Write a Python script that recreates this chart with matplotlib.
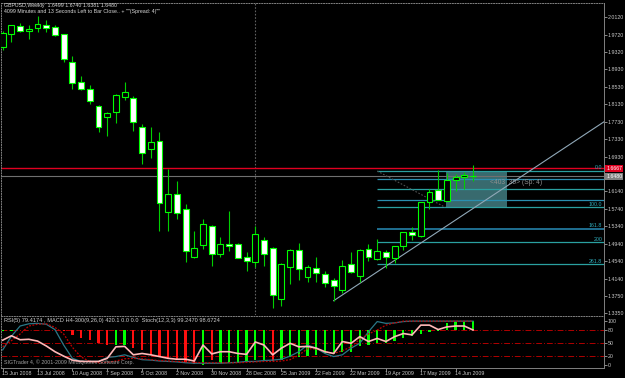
import matplotlib
matplotlib.use('Agg')
import matplotlib.pyplot as plt
from matplotlib.patches import Rectangle
from matplotlib.transforms import blended_transform_factory
import numpy as np

plt.rcParams['font.family'] = ['Liberation Sans', 'DejaVu Sans']

# ---------------- data ----------------
opens = [1.9448, 1.9732, 1.9921, 1.9800, 1.9882, 1.9937, 1.9899, 1.9732, 1.9105, 1.8641,
         1.8487, 1.8099, 1.7847, 1.7961, 1.8304, 1.8268, 1.7605, 1.7115, 1.7284, 1.5674,
         1.6079, 1.5743, 1.4638, 1.4920, 1.5354, 1.4700, 1.4936, 1.4929, 1.4638, 1.4517,
         1.5034, 1.4851, 1.3671, 1.4403, 1.4792, 1.4188, 1.4380, 1.4250, 1.4106, 1.3884,
         1.4471, 1.4211, 1.4815, 1.4600, 1.4753, 1.4622, 1.4890, 1.5210, 1.5126, 1.5903,
         1.6171, 1.5926, 1.6399, 1.6475, 1.6499]
highs = [1.9807, 1.9950, 1.9983, 1.9944, 2.0150, 2.0059, 1.9944, 1.9740, 1.9235, 1.8778,
         1.8565, 1.8105, 1.7955, 1.8366, 1.8648, 1.8320, 1.7680, 1.7618, 1.7497, 1.6644,
         1.6377, 1.5851, 1.5233, 1.5507, 1.5370, 1.5096, 1.5690, 1.4952, 1.4746, 1.5347,
         1.5096, 1.4874, 1.4494, 1.4821, 1.4965, 1.4455, 1.4632, 1.4318, 1.4165, 1.4570,
         1.4746, 1.4821, 1.4929, 1.5043, 1.4798, 1.4897, 1.5217, 1.5318, 1.5903, 1.6187,
         1.6628, 1.6553, 1.6537, 1.6582, 1.6740]
lows = [1.9372, 1.9562, 1.9784, 1.9624, 1.9784, 1.9784, 1.9700, 1.9105, 1.8487, 1.8465,
        1.8138, 1.7504, 1.7406, 1.7710, 1.8229, 1.7527, 1.6765, 1.6896, 1.5240, 1.5240,
        1.5501, 1.4531, 1.4616, 1.4815, 1.4439, 1.4645, 1.4783, 1.4610, 1.4318, 1.4417,
        1.4433, 1.3479, 1.3518, 1.4021, 1.4112, 1.4074, 1.4074, 1.3945, 1.3639, 1.3822,
        1.4266, 1.4074, 1.4554, 1.4570, 1.4380, 1.4494, 1.4798, 1.5027, 1.5089, 1.5743,
        1.5935, 1.5920, 1.6155, 1.6187, 1.6381]
closes = [1.9754, 1.9937, 1.9800, 1.9853, 1.9967, 1.9869, 1.9709, 1.9174, 1.8611, 1.8474,
          1.8199, 1.7618, 1.7925, 1.8343, 1.8419, 1.7719, 1.7024, 1.7275, 1.5880, 1.6072,
          1.5638, 1.4769, 1.4851, 1.5386, 1.4707, 1.4929, 1.4897, 1.4616, 1.4547, 1.5158,
          1.4714, 1.3769, 1.4471, 1.4798, 1.4371, 1.4410, 1.4279, 1.4051, 1.3968, 1.4439,
          1.4288, 1.4798, 1.4632, 1.4769, 1.4638, 1.4883, 1.5203, 1.5142, 1.5889, 1.6132,
          1.5942, 1.6399, 1.6475, 1.6514, 1.6480]

date_labels = ["15 Jun 2008", "13 Jul 2008", "10 Aug 2008", "7 Sep 2008", "5 Oct 2008",
               "2 Nov 2008", "30 Nov 2008", "28 Dec 2008", "25 Jan 2009", "22 Feb 2009",
               "22 Mar 2009", "19 Apr 2009", "17 May 2009", "14 Jun 2009"]
date_label_idx = [0, 4, 8, 12, 16, 20, 24, 28, 32, 36, 40, 44, 48, 52]

price_ticks = [2.0120, 1.9720, 1.9320, 1.8930, 1.8530, 1.8130, 1.7730, 1.7330, 1.6930,
               1.6140, 1.5740, 1.5340, 1.4940, 1.4540, 1.4140, 1.3750, 1.3350]

hist_vals = [77, 77, 78, 78, 78, 79, 78, 76, 68, 62, 56, 49, 45, 45, 45, 38, 34, 23, 19, 15,
             11, 5, 2, 0, 11, 4, 4, 4, 8, 11, 11, 8, 11, 17, 19, 21, 23, 26, 24, 30,
             30, 43, 45, 49, 50, 55, 62, 65, 71, 75, 77, 94, 97, 100, 100]
hist_up = [1, 1, 1, 1, 1, 0, 0, 0, 0, 0, 0, 0, 0, 1, 1, 0, 0, 0, 0, 0,
           0, 0, 0, 1, 0, 1, 1, 1, 1, 1, 1, 0, 1, 1, 1, 1, 1, 1, 1, 1,
           1, 1, 1, 1, 1, 1, 1, 1, 1, 1, 1, 1, 1, 1, 1]
rsi_vals = [56, 66, 57, 58, 54, 43, 30, 20, 11, 8, 8, 8, 15, 41, 42, 23, 26, 23, 19, 15,
            13, 13, 9, 45, 25, 30, 30, 26, 24, 52, 45, 23, 38, 49, 41, 42, 38, 30, 26, 53,
            49, 64, 53, 60, 53, 64, 71, 68, 90, 90, 80, 86, 88, 88, 79]
stoch_main = [34, 65, 88, 93, 94, 92, 80, 45, 15, 8, 8, 8, 17, 19, 23, 17, 12, 11, 9, 8,
              7, 5, 4, 4, 4, 4, 5, 6, 8, 8, 10, 11, 13, 20, 30, 45, 38, 26, 19, 23,
              38, 49, 75, 98, 94, 95, 98, 99, 99, 99, 99, 99, 99, 99, 99]
stoch_sig = [41, 55, 70, 88, 92, 93, 85, 70, 40, 18, 8, 5, 6, 9, 14, 15, 14, 12, 10, 9,
             8, 7, 6, 5, 5, 5, 5, 5, 6, 7, 8, 8, 9, 12, 22, 37, 36, 30, 26, 32,
             41, 58, 70, 79, 90, 95, 99, 99, 99, 99, 99, 99, 99, 99, 99]

fib_levels = [1.6605, 1.6429, 1.6187, 1.5942, 1.5775, 1.5279, 1.4975, 1.4471]
fib_names = ["0.0", "", "", "", "100.0", "161.8", "200", "261.8"]
fib_start = 43.0
red_line = 1.6667
bid_price = 1.6480
trend_pts = ([38, 60], [1.3639, 1.6539])
box_x = (50.9, 57.9)
box_y = (1.5775, 1.6605)

# ---------------- figure ----------------
W, H = 625, 378
fig = plt.figure(figsize=(W / 100, H / 100), dpi=100, facecolor='black')


def rect(l, t, r, b):
    return [l / W, 1 - b / H, (r - l) / W, (b - t) / H]


ax = fig.add_axes(rect(1, 3, 604, 315))
ax2 = fig.add_axes(rect(1, 316, 604, 368), sharex=ax)
for a in (ax, ax2):
    a.set_facecolor('black')
    for s in a.spines.values():
        s.set_color('#808080')
        s.set_linewidth(0.7)
    a.spines['top'].set_linestyle(':')
    a.spines['left'].set_linestyle(':')
ax.spines['bottom'].set_visible(False)

ax.set_xlim(-0.195, 69.04)
ax.set_ylim(1.3312, 2.0447)
ax2.set_ylim(-6.8, 110.6)

n = len(closes)
x = np.arange(n)
FS = 3.8

# period separator
ax.axvline(29, color='#606060', ls=(0, (1.5, 1.5)), lw=0.8, zorder=1)

# horizontal lines
ax.axhline(red_line, color='#e00020', lw=1.0, zorder=2)
ax.axhline(bid_price, color='#707070', lw=0.8, zorder=2)

# rectangle object
ax.add_patch(Rectangle((box_x[0], box_y[0]), box_x[1] - box_x[0], box_y[1] - box_y[0],
                       facecolor='#386a6e', edgecolor='none', zorder=1.5))

# fib lines
fib_cols = ['#2aa0a0', '#2a8fb0', '#2aa0a0', '#2a8fb0', '#2aa0a0', '#1f6f90', '#2aa0a0', '#2aa0a0']
for lv, nm, c in zip(fib_levels, fib_names, fib_cols):
    ax.hlines(lv, fib_start, 69.1, colors=c, lw=0.9 if nm != "161.8" else 1.4, zorder=2)
    if nm:
        ax.text(68.85, lv + 0.0012, nm, ha='right', va='bottom', fontsize=FS,
                color='#30b0c0', zorder=5)
ax.plot([fib_start, 50.8], [fib_levels[0], fib_levels[4]], color='#505050',
        ls=(0, (1.5, 1.5)), lw=0.8, zorder=2)

# trend line (ray)
slope = (trend_pts[1][1] - trend_pts[1][0]) / (trend_pts[0][1] - trend_pts[0][0])
xt = np.array([trend_pts[0][0], 70])
ax.plot(xt, trend_pts[1][0] + slope * (xt - trend_pts[0][0]), color='#90a8b8', lw=0.8, zorder=2.5)

# candles
bw = 0.68
for i in range(n):
    o, h, l, c = opens[i], highs[i], lows[i], closes[i]
    ax.vlines(i, l, h, color='#00d000', lw=0.8, zorder=3)
    bottom = min(o, c)
    height = max(abs(c - o), 0.0012)
    fc = 'black' if c > o else 'white'
    ax.add_patch(Rectangle((i - bw / 2, bottom), bw, height, facecolor=fc,
                           edgecolor='#00ff00', lw=0.8, zorder=4))

ax.text(55.9, 1.6347, "<403  35> (Sp: 4)", fontsize=4.8, color='#909090', va='center',
        ha='left', zorder=5)

# price axis
ax.yaxis.tick_right()
ax.set_yticks(price_ticks)
ax.set_yticklabels([f"{p:.4f}" for p in price_ticks])
ax.tick_params(axis='y', direction='out', length=2, width=0.6, color='#a0a0a0',
               labelsize=FS, labelcolor='#c8c8c8', pad=0.8)
ax.tick_params(axis='x', bottom=False, labelbottom=False)

tr = blended_transform_factory(ax.transAxes, ax.transData)
ax.text(1.0035, red_line, "1.6667", transform=tr, fontsize=FS, color='white', va='center',
        ha='left', bbox=dict(boxstyle='square,pad=0.2', fc='#e00020', ec='none'), zorder=6,
        clip_on=False)
ax.text(1.0035, bid_price, f"{bid_price:.4f}", transform=tr, fontsize=FS, color='white',
        va='center', ha='left', bbox=dict(boxstyle='square,pad=0.2', fc='#808080', ec='none'),
        zorder=6, clip_on=False)

# header texts
fig.text(4 / W, 1 - 5.5 / H, "GBPUSD,Weekly  1.6499 1.6740 1.6381 1.6480", fontsize=FS,
         color='#d8d8d8', va='center', ha='left')
fig.text(4 / W, 1 - 11.5 / H,
         "4099 Minutes and 13 Seconds Left to Bar Close.. + \"\"(Spread: 4)\"\"",
         fontsize=FS, color='#d8d8d8', va='center', ha='left')

# ---------------- indicator panel ----------------
for lv in (20, 50, 80):
    ax2.axhline(lv, color='#b00000', lw=0.7, ls=(0, (6, 2, 1, 2)), zorder=1)
cols = ['#00ff00' if u else '#ff1010' for u in hist_up]
ax2.bar(x, np.array(hist_vals) - 80, bottom=80, width=0.26, color=cols, zorder=2)
ax2.plot(x, stoch_main, color='#2a7888', lw=0.9, zorder=3)
ax2.plot(x, stoch_sig, color='#c00000', lw=0.9, ls=(0, (1.5, 1.2)), zorder=3)
ax2.plot(x, rsi_vals, color='#ffb8b8', lw=1.2, zorder=4)

ax2.text(0.005, 0.91, "RSI(5) 79.4174 , MACD H4-300(9,26,0) 420.1 0.0 0.0  Stoch(12,3,3) 99.2470 98.6724",
         transform=ax2.transAxes, fontsize=4.1, color='#d0d0d0', va='center', ha='left')
ax2.text(0.005, 0.12, "SIGTrader 4, \u00a9 2001-2009 MetaQuotes Software Corp.",
         transform=ax2.transAxes, fontsize=FS, color='#a0a0a0', va='center', ha='left')

ax2.yaxis.tick_right()
ax2.set_yticks([0, 20, 50, 80, 100])
ax2.set_yticklabels(["0", "20", "50", "80", "100"])
ax2.tick_params(axis='y', direction='out', length=2, width=0.6, color='#a0a0a0',
                labelsize=FS, labelcolor='#c8c8c8', pad=0.8)
ax2.set_xticks(date_label_idx)
ax2.tick_params(axis='x', direction='out', length=2, width=0.6, color='#a0a0a0',
                labelbottom=False)
trx = blended_transform_factory(ax2.transData, ax2.transAxes)
for idx, lab in zip(date_label_idx, date_labels):
    ax2.text(idx - 0.1, -0.1, lab, transform=trx, fontsize=FS, color='#c8c8c8',
             va='center', ha='left', clip_on=False)

fig.savefig('out.png', dpi=100, facecolor='black')
